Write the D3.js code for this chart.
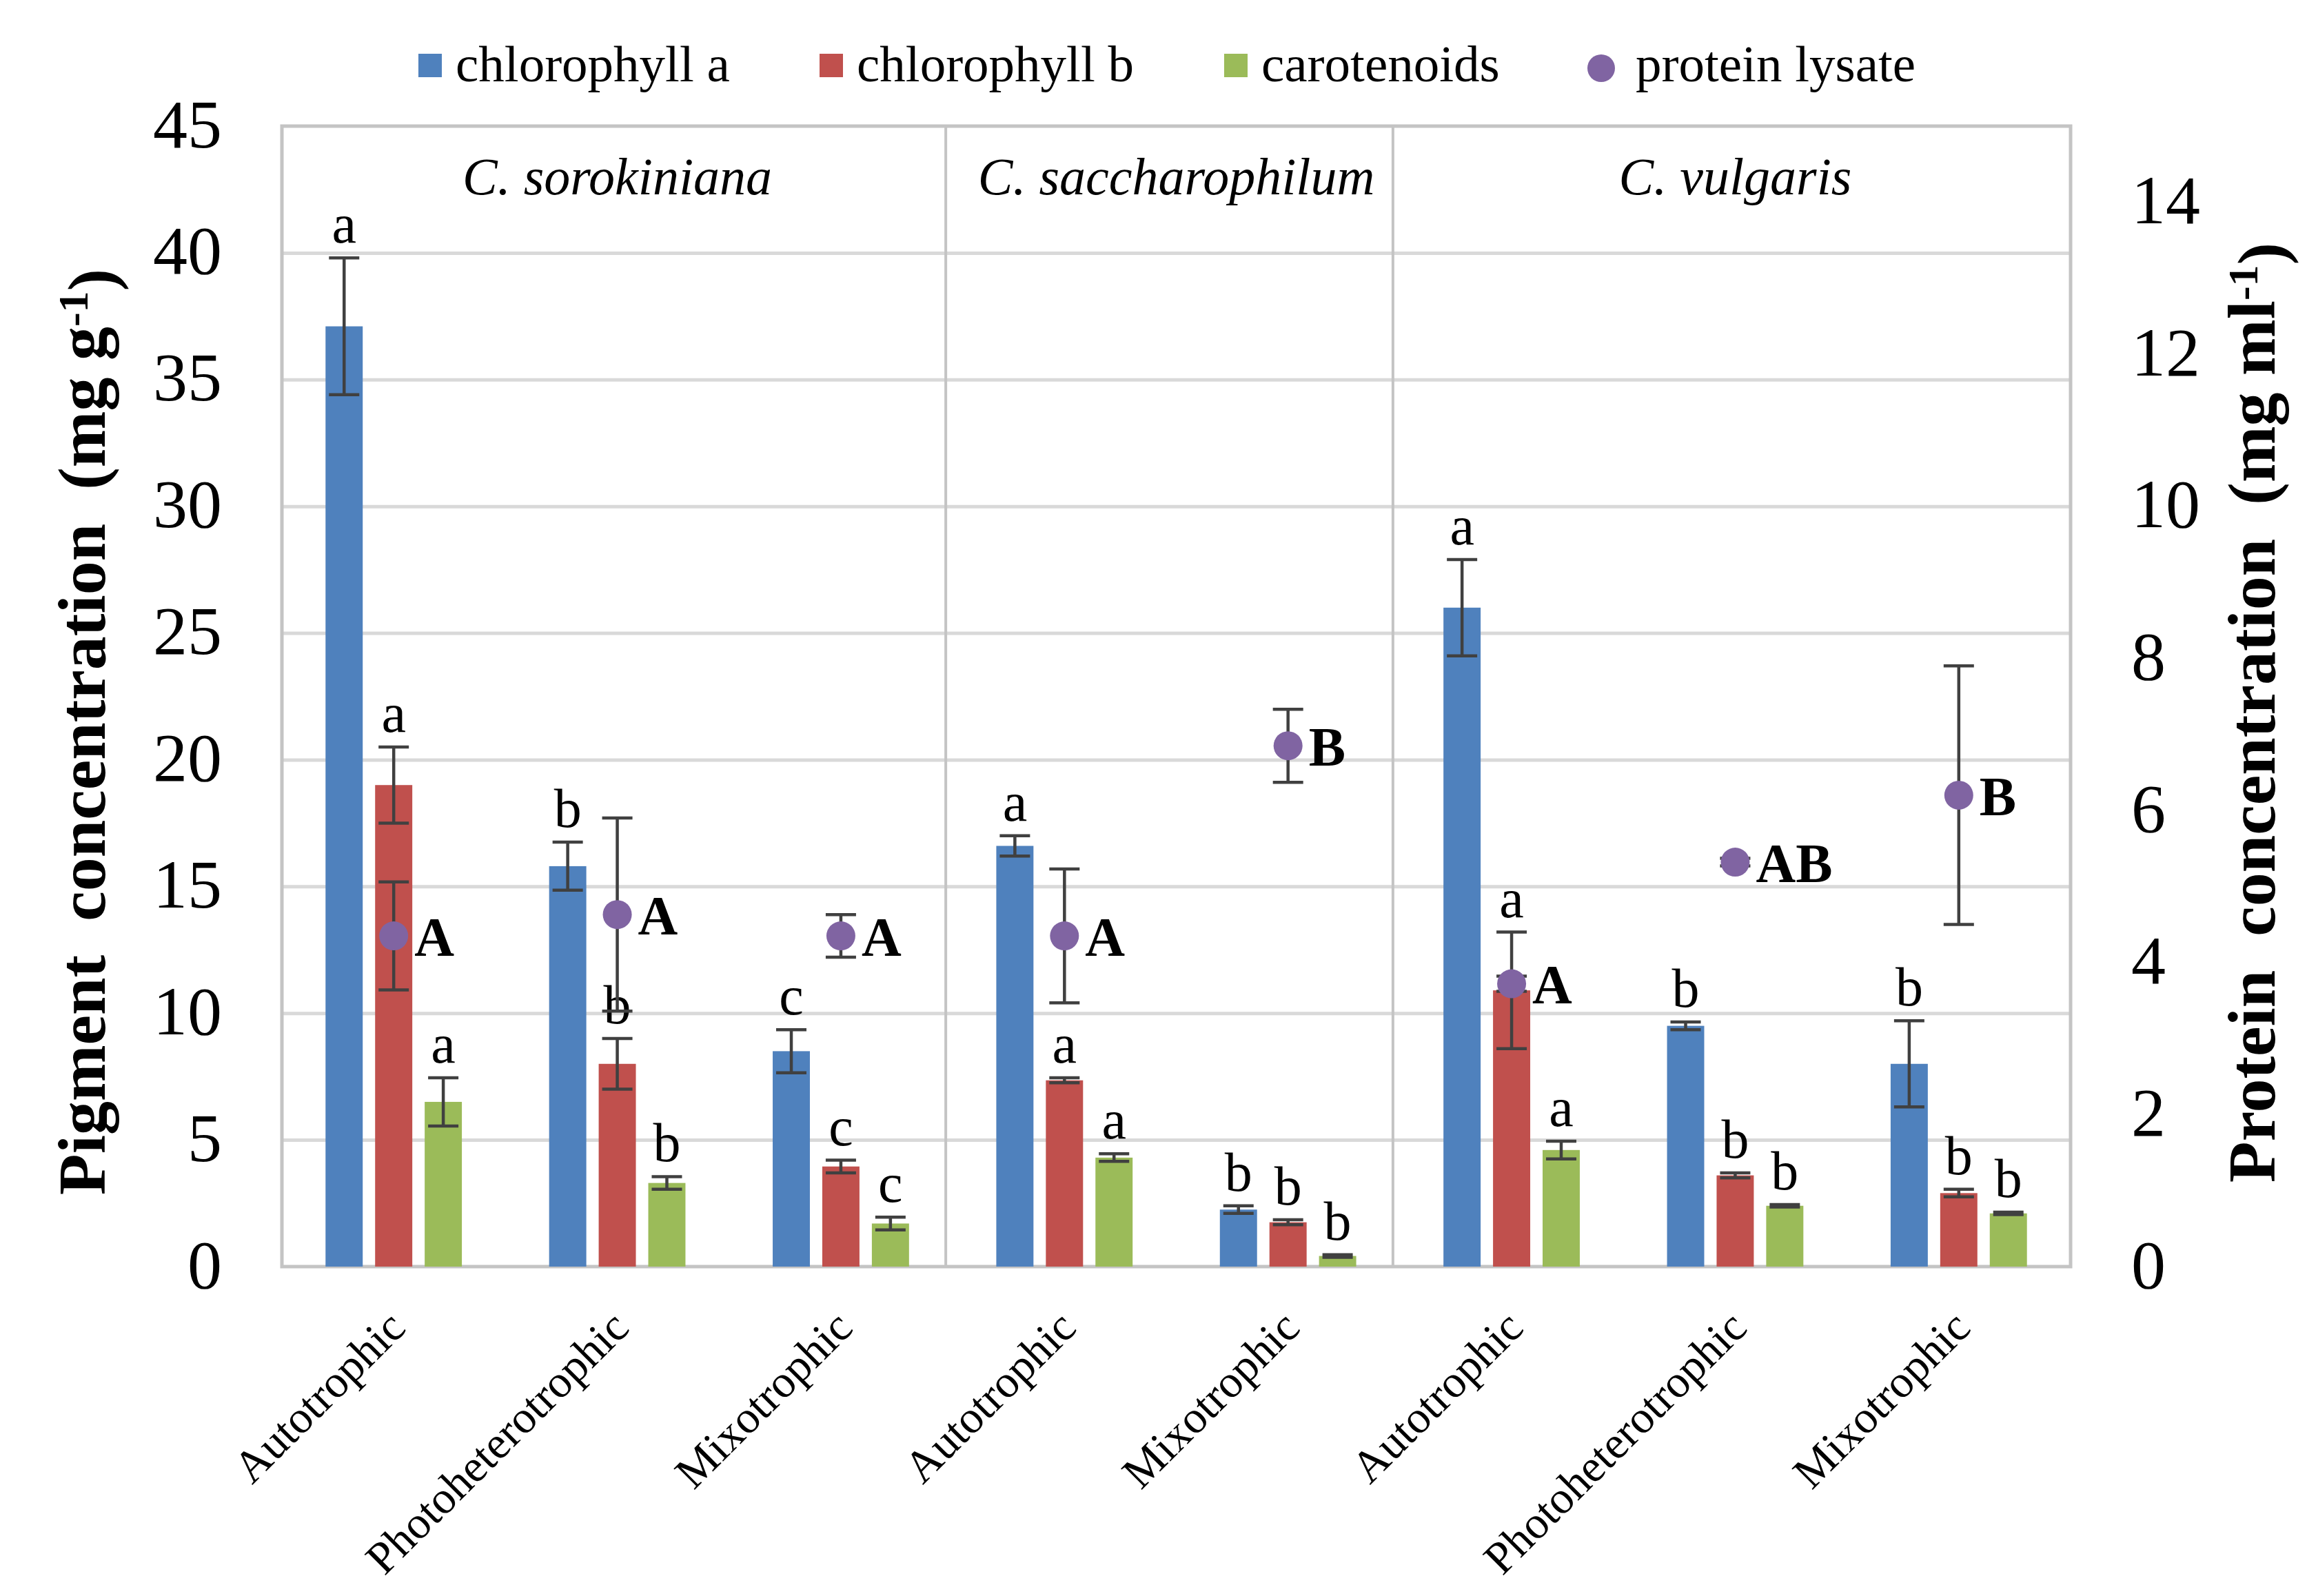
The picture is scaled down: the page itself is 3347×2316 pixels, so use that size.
<!DOCTYPE html>
<html lang="en">
<head>
  <meta charset="UTF-8">
  <title>Pigment and protein concentration</title>
  <script src="https://d3js.org/d3.v7.min.js"></script>
  <style>
    body { margin: 0; background: #fff; }
    text { font-family: "Liberation Serif", "Times New Roman", serif; fill: #000; }
    .grid line { stroke: #d9d9d9; stroke-width: 5px; }
    .grid path { display: none; }
    .frame { stroke: #c4c4c4; stroke-width: 5px; fill: none; }
    .divider { stroke: #c4c4c4; stroke-width: 4px; }
    .err { stroke: #404040; stroke-width: 4.5px; fill: none; }
  </style>
</head>
<body>
  <div id="chart"></div>
  <script>
    // values
    const conditions = ["Autotrophic", "Photoheterotrophic", "Mixotrophic", "Autotrophic", "Mixotrophic",
                        "Autotrophic", "Photoheterotrophic", "Mixotrophic"];
    const species = ["C. sorokiniana", "C. saccharophilum", "C. vulgaris"];
    const speciesStart = [0, 3, 5];   // first condition index of each species panel
    const speciesEnd = [3, 5, 8];

    const chlA = [37.1, 15.8, 8.5, 16.6, 2.25, 26.0, 9.5, 8.0];
    const chlAErr = [2.7, 0.95, 0.85, 0.4, 0.15, 1.9, 0.15, 1.7];
    const chlB = [19.0, 8.0, 3.95, 7.35, 1.75, 10.9, 3.6, 2.9];
    const chlBErr = [1.5, 1.0, 0.25, 0.1, 0.1, 2.3, 0.1, 0.15];
    const carot = [6.5, 3.3, 1.7, 4.3, 0.42, 4.6, 2.4, 2.1];
    const carotErr = [0.95, 0.25, 0.25, 0.15, 0.05, 0.35, 0.05, 0.05];
    const protein = [4.35, 4.63, 4.35, 4.35, 6.85, 3.72, 5.32, 6.2];
    const proteinErr = [0.71, 1.27, 0.28, 0.88, 0.48, 0.1, 0.05, 1.7];

    const chlALetters = ["a", "b", "c", "a", "b", "a", "b", "b"];
    const chlBLetters = ["a", "b", "c", "a", "b", "a", "b", "b"];
    const carotLetters = ["a", "b", "c", "a", "b", "a", "b", "b"];
    const proteinLetters = ["A", "A", "A", "A", "B", "A", "AB", "B"];

    const leftTicks = d3.range(0, 46, 5);
    const rightTicks = d3.range(0, 15, 2);

    const seriesNames = ["chlorophyll a", "chlorophyll b", "carotenoids"];
    const seriesColors = ["#4F81BD", "#C0504D", "#9BBB59"];
    const proteinName = "protein lysate";
    const proteinColor = "#8064A2";

    const W = 3347, H = 2316;
    const plot = { left: 409, right: 3004, top: 183, bottom: 1838 };

    const svg = d3.select("#chart").append("svg")
      .attr("width", W)
      .attr("height", H);

    const x = d3.scaleBand()
      .domain(d3.range(conditions.length))
      .range([plot.left, plot.right])
      .padding(0);

    const xSub = d3.scaleBand()
      .domain(d3.range(seriesNames.length))
      .range([0, x.bandwidth()])
      .paddingInner(0.25)
      .paddingOuter(0.88);

    const yL = d3.scaleLinear().domain([0, 45]).range([plot.bottom, plot.top]);
    const yR = d3.scaleLinear().domain([0, 15]).range([plot.bottom, plot.top]);

    // gridlines
    svg.append("g")
      .attr("class", "grid")
      .attr("transform", `translate(${plot.left},0)`)
      .call(d3.axisLeft(yL).tickValues(leftTicks.slice(1, -1)).tickSize(-(plot.right - plot.left)).tickFormat(""));

    // frame and species dividers
    svg.append("rect")
      .attr("class", "frame")
      .attr("x", plot.left)
      .attr("y", plot.top)
      .attr("width", plot.right - plot.left)
      .attr("height", plot.bottom - plot.top);

    svg.selectAll(".divider")
      .data(speciesStart.slice(1))
      .enter()
      .append("line")
      .attr("class", "divider")
      .attr("x1", d => x(d) - 10)
      .attr("x2", d => x(d) - 10)
      .attr("y1", plot.top)
      .attr("y2", plot.bottom);

    svg.selectAll(".species")
      .data(species)
      .enter()
      .append("text")
      .attr("class", "species")
      .attr("x", (d, i) => (x(speciesStart[i]) + x(speciesEnd[i] - 1) + x.bandwidth()) / 2)
      .attr("y", 282)
      .attr("text-anchor", "middle")
      .style("font-size", "76px")
      .style("font-style", "italic")
      .text(d => d);

    // bars
    const series = [
      { vals: chlA, errs: chlAErr, letters: chlALetters },
      { vals: chlB, errs: chlBErr, letters: chlBLetters },
      { vals: carot, errs: carotErr, letters: carotLetters }
    ];

    series.forEach((s, k) => {
      const g = svg.append("g");
      const cx = i => x(i) + xSub(k) + xSub.bandwidth() / 2;

      g.selectAll("rect")
        .data(s.vals)
        .enter()
        .append("rect")
        .attr("x", (d, i) => x(i) + xSub(k))
        .attr("y", d => yL(d))
        .attr("width", xSub.bandwidth())
        .attr("height", d => yL(0) - yL(d))
        .style("fill", seriesColors[k]);

      s.vals.forEach((v, i) => {
        const top = yL(v + s.errs[i]), bot = yL(v - s.errs[i]);
        g.append("path")
          .attr("class", "err")
          .attr("d", `M${cx(i)},${top}V${bot}M${cx(i) - 22},${top}H${cx(i) + 22}M${cx(i) - 22},${bot}H${cx(i) + 22}`);
        g.append("text")
          .attr("x", cx(i))
          .attr("y", top - 22)
          .attr("text-anchor", "middle")
          .style("font-size", "80px")
          .text(s.letters[i]);
      });
    });

    // protein markers on the right axis
    const pg = svg.append("g");
    protein.forEach((v, i) => {
      const cx = x(i) + x.bandwidth() / 2;
      const top = yR(v + proteinErr[i]), bot = yR(v - proteinErr[i]);
      pg.append("path")
        .attr("class", "err")
        .attr("d", `M${cx},${top}V${bot}M${cx - 22},${top}H${cx + 22}M${cx - 22},${bot}H${cx + 22}`);
      pg.append("circle")
        .attr("cx", cx)
        .attr("cy", yR(v))
        .attr("r", 21)
        .style("fill", proteinColor);
      pg.append("text")
        .attr("x", cx + 30)
        .attr("y", yR(v))
        .attr("dy", "0.36em")
        .style("font-size", "80px")
        .style("font-weight", "bold")
        .text(proteinLetters[i]);
    });

    // axes
    const axL = svg.append("g")
      .attr("transform", `translate(${plot.left},0)`)
      .call(d3.axisLeft(yL).tickValues(leftTicks).tickSize(0).tickPadding(87));
    const axR = svg.append("g")
      .attr("transform", `translate(${plot.right},0)`)
      .call(d3.axisRight(yR).tickValues(rightTicks).tickSize(0).tickPadding(88));
    [axL, axR].forEach(a => {
      a.select(".domain").remove();
      a.selectAll("text")
        .attr("dy", "0.3em")
        .style("font-size", "100px")
        .style("font-family", "'Liberation Serif', 'Times New Roman', serif")
        .style("fill", "#000");
    });

    const axB = svg.append("g")
      .attr("transform", `translate(0,${plot.bottom})`)
      .call(d3.axisBottom(x).tickSize(0).tickFormat(i => conditions[i]));
    axB.select(".domain").remove();
    axB.selectAll("text")
      .attr("text-anchor", "end")
      .attr("dy", null)
      .attr("y", 0)
      .attr("transform", "translate(20,92) rotate(-45)")
      .style("font-size", "66px")
      .style("font-family", "'Liberation Serif', 'Times New Roman', serif")
      .style("fill", "#000");

    // axis titles
    function axisTitle(xpos, ypos, main, unit) {
      const t = svg.append("text")
        .attr("transform", `translate(${xpos},${ypos}) rotate(-90)`)
        .attr("text-anchor", "middle")
        .style("font-size", "98px")
        .style("font-weight", "bold")
        .style("white-space", "pre");
      t.append("tspan").text(main + "  (" + unit);
      t.append("tspan").attr("dy", "-0.4em").style("font-size", "62px").text("-1");
      t.append("tspan").attr("dy", "0.4em").text(")");
    }
    axisTitle(152, 1062, "Pigment  concentration", "mg g");
    axisTitle(3300, 1034, "Protein  concentration", "mg ml");

    // legend
    const legendX = [607, 1189, 1776];
    const legend = svg.append("g");
    seriesNames.forEach((name, k) => {
      legend.append("rect")
        .attr("x", legendX[k])
        .attr("y", 78)
        .attr("width", 34)
        .attr("height", 34)
        .style("fill", seriesColors[k]);
      legend.append("text")
        .attr("x", legendX[k] + 54)
        .attr("y", 118)
        .style("font-size", "75px")
        .text(name);
    });
    legend.append("circle")
      .attr("cx", 2323)
      .attr("cy", 99)
      .attr("r", 20)
      .style("fill", proteinColor);
    legend.append("text")
      .attr("x", 2373)
      .attr("y", 118)
      .style("font-size", "75px")
      .text(proteinName);
  </script>
</body>
</html>
